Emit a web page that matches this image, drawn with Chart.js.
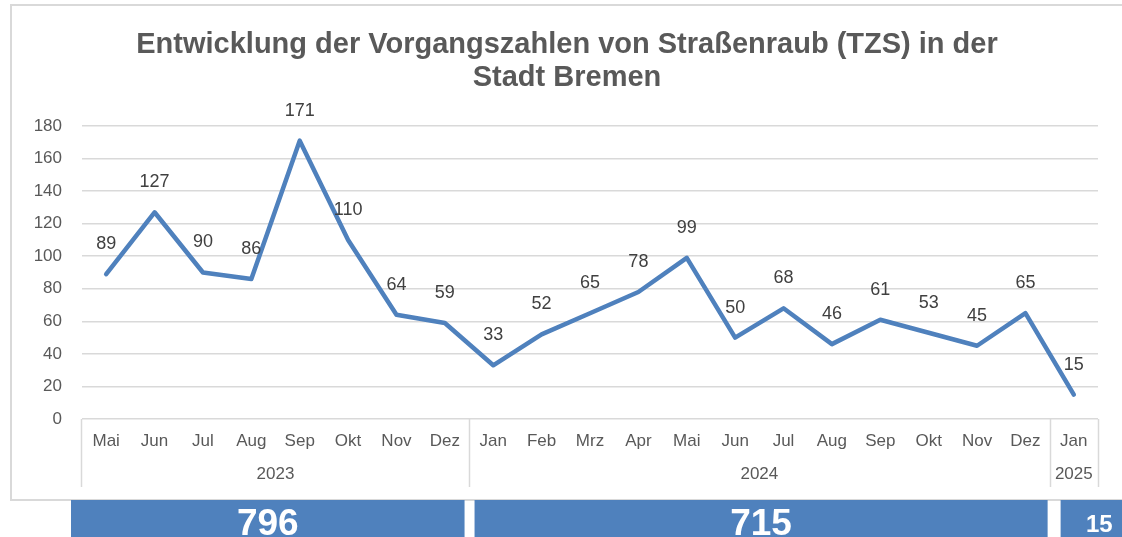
<!DOCTYPE html>
<html><head><meta charset="utf-8">
<script src="https://cdn.jsdelivr.net/npm/chart.js@4"></script>
<style>html,body{margin:0;padding:0;background:#fff;overflow:hidden}</style>
</head><body>
<canvas id="c" width="1122" height="537" style="display:block;width:1122px;height:537px"></canvas>
<script>
const titleLines = ['Entwicklung der Vorgangszahlen von Straßenraub (TZS) in der', 'Stadt Bremen'];
const months = ['Mai','Jun','Jul','Aug','Sep','Okt','Nov','Dez','Jan','Feb','Mrz','Apr','Mai','Jun','Jul','Aug','Sep','Okt','Nov','Dez','Jan'];
const years = ['2023','2024','2025'];
const yearCounts = [8, 12, 1];
const values = [89,127,90,86,171,110,64,59,33,52,65,78,99,50,68,46,61,53,45,65,15];
const yMin = 0, yMax = 180, yStep = 20;

const FONT = "'Liberation Sans', Arial, Helvetica, sans-serif";
const TXT = '#595959';
const BLUE = '#4F81BD';
const GRID = '#d9d9d9';

const frame = {
  id: 'frame',
  beforeDraw(chart) {
    const ctx = chart.ctx;
    ctx.save();
    ctx.fillStyle = '#fff';
    ctx.fillRect(0, 0, chart.width, chart.height);
    ctx.strokeStyle = GRID;
    ctx.lineWidth = 2;
    ctx.strokeRect(11, 5, chart.width + 30, 495);
    // title
    ctx.font = 'bold 29px ' + FONT;
    ctx.fillStyle = TXT;
    ctx.textAlign = 'center';
    ctx.textBaseline = 'alphabetic';
    titleLines.forEach((t, i) => ctx.fillText(t, 567, 53 + i * 33));
    ctx.restore();
  }
};

const dataLabels = {
  id: 'dataLabels',
  afterDatasetsDraw(chart) {
    const ctx = chart.ctx;
    const meta = chart.getDatasetMeta(0);
    ctx.save();
    ctx.font = '18px ' + FONT;
    ctx.fillStyle = '#404040';
    ctx.textAlign = 'center';
    ctx.textBaseline = 'middle';
    meta.data.forEach((pt, i) => {
      ctx.fillText(String(values[i]), pt.x, pt.y - 30);
    });
    ctx.restore();
  }
};

const groups = {
  id: 'groups',
  afterDraw(chart) {
    const ctx = chart.ctx;
    const xs = chart.scales.x;
    const area = chart.chartArea;
    const half = (xs.getPixelForValue(1) - xs.getPixelForValue(0)) / 2;
    let start = 0;
    const bounds = [];
    ctx.save();
    years.forEach((y, g) => {
      const end = start + yearCounts[g] - 1;
      const l = xs.getPixelForValue(start) - half;
      const r = xs.getPixelForValue(end) + half;
      bounds.push([l, r, start, end]);
      start = end + 1;
    });
    ctx.strokeStyle = GRID;
    ctx.lineWidth = 1.5;
    const sepX = [bounds[0][0] - 1.5].concat(bounds.map(b => b[1]));
    sepX.forEach(x => {
      ctx.beginPath();
      ctx.moveTo(Math.round(x) + 0.5, area.bottom);
      ctx.lineTo(Math.round(x) + 0.5, 487);
      ctx.stroke();
    });
    ctx.font = '17px ' + FONT;
    ctx.fillStyle = TXT;
    ctx.textAlign = 'center';
    ctx.textBaseline = 'middle';
    bounds.forEach((b, g) => {
      ctx.fillText(years[g], (b[0] + b[1]) / 2, 474);
    });
    const totals = bounds.map(b => values.slice(b[2], b[3] + 1).reduce((a, v) => a + v, 0));
    const boxes = [
      [bounds[0][0] - 11, bounds[0][1] - 4.5],
      [bounds[1][0] + 5.5, bounds[1][1] - 2],
      [bounds[2][0] + 11, bounds[2][1] + 40]
    ];
    ctx.fillStyle = BLUE;
    boxes.forEach(bx => ctx.fillRect(bx[0], 500, bx[1] - bx[0], 40));
    ctx.fillStyle = '#ffffff';
    ctx.textBaseline = 'alphabetic';
    boxes.forEach((bx, g) => {
      const small = g === 2;
      ctx.font = 'bold ' + (small ? 24 : 37) + 'px ' + FONT;
      ctx.fillText(String(totals[g]), (bx[0] + bx[1]) / 2, small ? 532 : 535);
    });
    ctx.restore();
  }
};

new Chart(document.getElementById('c'), {
  type: 'line',
  data: {
    labels: months,
    datasets: [{
      data: values,
      borderColor: BLUE,
      backgroundColor: BLUE,
      borderWidth: 4.5,
      pointRadius: 0,
      tension: 0,
      borderJoinStyle: 'round',
      borderCapStyle: 'round'
    }]
  },
  options: {
    responsive: false,
    animation: false,
    devicePixelRatio: 1,
    layout: { padding: { left: 10, right: 24, top: 126, bottom: 0 } },
    plugins: {
      legend: { display: false },
      tooltip: { enabled: false },
      title: { display: false }
    },
    scales: {
      x: {
        offset: true,
        grid: { display: false, drawTicks: false },
        border: { display: false },
        ticks: {
          color: TXT,
          font: { family: FONT, size: 17 },
          maxRotation: 0,
          autoSkip: false,
          padding: 12
        },
        afterFit(s) { s.height = 118; }
      },
      y: {
        min: yMin,
        max: yMax,
        grid: { color: GRID, lineWidth: 1.5, drawTicks: false },
        border: { display: false },
        ticks: {
          stepSize: yStep,
          color: TXT,
          font: { family: FONT, size: 17 },
          padding: 20
        },
        afterFit(s) { s.width = 72; }
      }
    }
  },
  plugins: [frame, dataLabels, groups]
});
</script>
</body></html>
